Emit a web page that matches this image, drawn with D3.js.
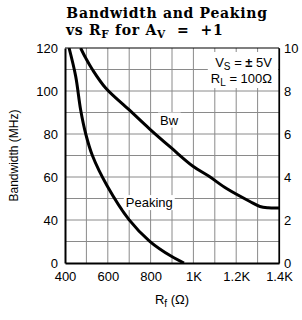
<!DOCTYPE html>
<html>
<head>
<meta charset="utf-8">
<script src="https://cdn.jsdelivr.net/npm/d3@7"></script>
<style>
  body { margin: 0; background: #fff; }
  text { font-family: "Liberation Sans", Arial, sans-serif; }
</style>
</head>
<body>
<div id="chart"></div>
<script>
// feedback resistor values (ohms)
const xTicks = [400, 600, 800, 1000, 1200, 1400];
// left axis as printed on the sheet (bottom label reads 0)
const leftTicks = [20, 40, 60, 80, 100, 120];
const leftTickLabels = ["0", "40", "60", "80", "100", "120"];
const rightTicks = [0, 2, 4, 6, 8, 10];

// bandwidth curve (MHz, left axis)
const bwRf = [473, 497, 528, 590, 699, 796, 897, 998, 1073, 1157, 1264, 1311, 1349, 1400];
const bwMHz = [120, 115.3, 110, 101.4, 91.3, 82.3, 73.5, 65, 60.3, 54.5, 48.6, 46.3, 45.7, 45.6];

// peaking curve (dB, right axis)
const pkRf = [419, 450, 473, 497, 528, 598, 699, 796, 897, 956];
const pkDB = [10, 8.68, 7.13, 6.0, 5.0, 3.57, 2.02, 1.01, 0.31, 0];

const width = 302, height = 320;
const margin = { top: 48, right: 23, bottom: 57, left: 65 };
const w = width - margin.left - margin.right;
const h = height - margin.top - margin.bottom;

const svg = d3.select("#chart").append("svg")
  .attr("width", width)
  .attr("height", height);

// title
svg.append("text")
  .attr("x", 167).attr("y", 18)
  .attr("text-anchor", "middle")
  .style("font-family", "'DejaVu Serif', serif")
  .style("font-weight", "bold")
  .style("font-size", "14px")
  .style("letter-spacing", "0.7px")
  .text("Bandwidth and Peaking");

const t2 = svg.append("text")
  .attr("x", 66).attr("y", 35)
  .style("font-family", "'DejaVu Serif', serif")
  .style("font-weight", "bold")
  .style("font-size", "14px")
  .style("letter-spacing", "0.7px");
t2.append("tspan").text("vs R");
t2.append("tspan").attr("dy", 3).style("font-size", "10.5px").text("F");
t2.append("tspan").attr("dy", -3).text(" for A");
t2.append("tspan").attr("dy", 3).style("font-size", "10.5px").text("V");
t2.append("tspan").attr("dy", -3).attr("xml:space", "preserve").text("  =  +1");

const g = svg.append("g")
  .attr("transform", `translate(${margin.left},${margin.top})`);

const x = d3.scaleLinear().domain([400, 1400]).range([0, w]);
const yL = d3.scaleLinear().domain([20, 120]).range([h, 0]);
const yR = d3.scaleLinear().domain([0, 10]).range([h, 0]);

// grid
g.append("g")
  .selectAll("line")
  .data(d3.range(500, 1400, 100))
  .enter().append("line")
  .attr("x1", d => x(d)).attr("x2", d => x(d))
  .attr("y1", 0).attr("y2", h)
  .style("stroke", "#8a8a8a").style("stroke-width", 1);

g.append("g")
  .selectAll("line")
  .data(d3.range(1, 10, 1))
  .enter().append("line")
  .attr("x1", 0).attr("x2", w)
  .attr("y1", d => yR(d)).attr("y2", d => yR(d))
  .style("stroke", "#8a8a8a").style("stroke-width", 1);

// frame top
g.append("line").attr("x1", 0).attr("x2", w).attr("y1", 0).attr("y2", 0)
  .style("stroke", "#000").style("stroke-width", 1.2);

// axes
const xAxis = g.append("g")
  .attr("transform", `translate(0,${h})`)
  .call(d3.axisBottom(x).tickValues(xTicks).tickSize(0).tickPadding(9)
    .tickFormat(d => d < 1000 ? d : (d / 1000) + "K"));

const yAxisL = g.append("g")
  .call(d3.axisLeft(yL).tickValues(leftTicks).tickSize(0).tickPadding(7)
    .tickFormat((d, i) => leftTickLabels[i]));

const yAxisR = g.append("g")
  .attr("transform", `translate(${w},0)`)
  .call(d3.axisRight(yR).tickValues(rightTicks).tickSize(0).tickPadding(5));

[xAxis, yAxisL, yAxisR].forEach(a => {
  a.selectAll("text")
    .style("font-family", "'Liberation Sans', Arial, sans-serif")
    .style("font-size", "13px")
    .style("fill", "#000");
  a.select(".domain").style("stroke", "#000").style("stroke-width", 2);
});
yAxisR.select(".domain").style("stroke-width", 1.2);

// curves
g.append("clipPath").attr("id", "clip")
  .append("rect").attr("width", w).attr("height", h);

const bwLine = d3.line()
  .x((d, i) => x(bwRf[i]))
  .y(d => yL(d))
  .curve(d3.curveCatmullRom);

const pkLine = d3.line()
  .x((d, i) => x(pkRf[i]))
  .y(d => yR(d))
  .curve(d3.curveCatmullRom);

g.append("path").datum(bwMHz)
  .attr("d", bwLine)
  .attr("clip-path", "url(#clip)")
  .style("fill", "none").style("stroke", "#000").style("stroke-width", 3);

g.append("path").datum(pkDB)
  .attr("d", pkLine)
  .attr("clip-path", "url(#clip)")
  .style("fill", "none").style("stroke", "#000").style("stroke-width", 3);

// labels with white backgrounds
function label(px, py, txt) {
  const bg = g.append("rect").style("fill", "#fff");
  const t = g.append("text")
    .attr("x", px).attr("y", py)
    .style("font-size", "13px")
    .text(txt);
  const b = t.node().getBBox();
  bg.attr("x", b.x - 2).attr("y", b.y).attr("width", b.width + 4).attr("height", b.height);
}
label(x(844), yL(84.4), "Bw");
label(x(684), yR(2.6), "Peaking");

// conditions box
const box = g.append("rect").style("fill", "#fff");
const c1 = g.append("text")
  .attr("x", 207).attr("y", 19)
  .attr("text-anchor", "end")
  .style("font-size", "13px");
c1.append("tspan").text("V");
c1.append("tspan").attr("dy", 3).style("font-size", "10px").text("S");
c1.append("tspan").attr("dy", -3).text(" = ");
c1.append("tspan").style("font-weight", "bold").text("±");
c1.append("tspan").text(" 5V");

const c2 = g.append("text")
  .attr("x", 207).attr("y", 35)
  .attr("text-anchor", "end")
  .style("font-size", "13px");
c2.append("tspan").text("R");
c2.append("tspan").attr("dy", 3).style("font-size", "10px").text("L");
c2.append("tspan").attr("dy", -3).text(" = 100Ω");
const b1 = c1.node().getBBox(), b2 = c2.node().getBBox();
const bx = Math.min(b1.x, b2.x) - 3;
box.attr("x", bx).attr("y", 4)
  .attr("width", w - 1 - bx).attr("height", 36);

// right frame drawn last so it stays on top
g.append("line").attr("x1", w).attr("x2", w).attr("y1", 0).attr("y2", h)
  .style("stroke", "#000").style("stroke-width", 1.2);

// axis titles
svg.append("text")
  .attr("transform", `translate(18,${margin.top + h / 2}) rotate(-90)`)
  .attr("text-anchor", "middle")
  .style("font-size", "12px")
  .text("Bandwidth (MHz)");

const xt = svg.append("text")
  .attr("x", margin.left + w / 2).attr("y", 304)
  .attr("text-anchor", "middle")
  .style("font-size", "13px");
xt.append("tspan").text("R");
xt.append("tspan").attr("dy", 3).style("font-size", "10px").text("f");
xt.append("tspan").attr("dy", -3).text(" (Ω)");
</script>
</body>
</html>
